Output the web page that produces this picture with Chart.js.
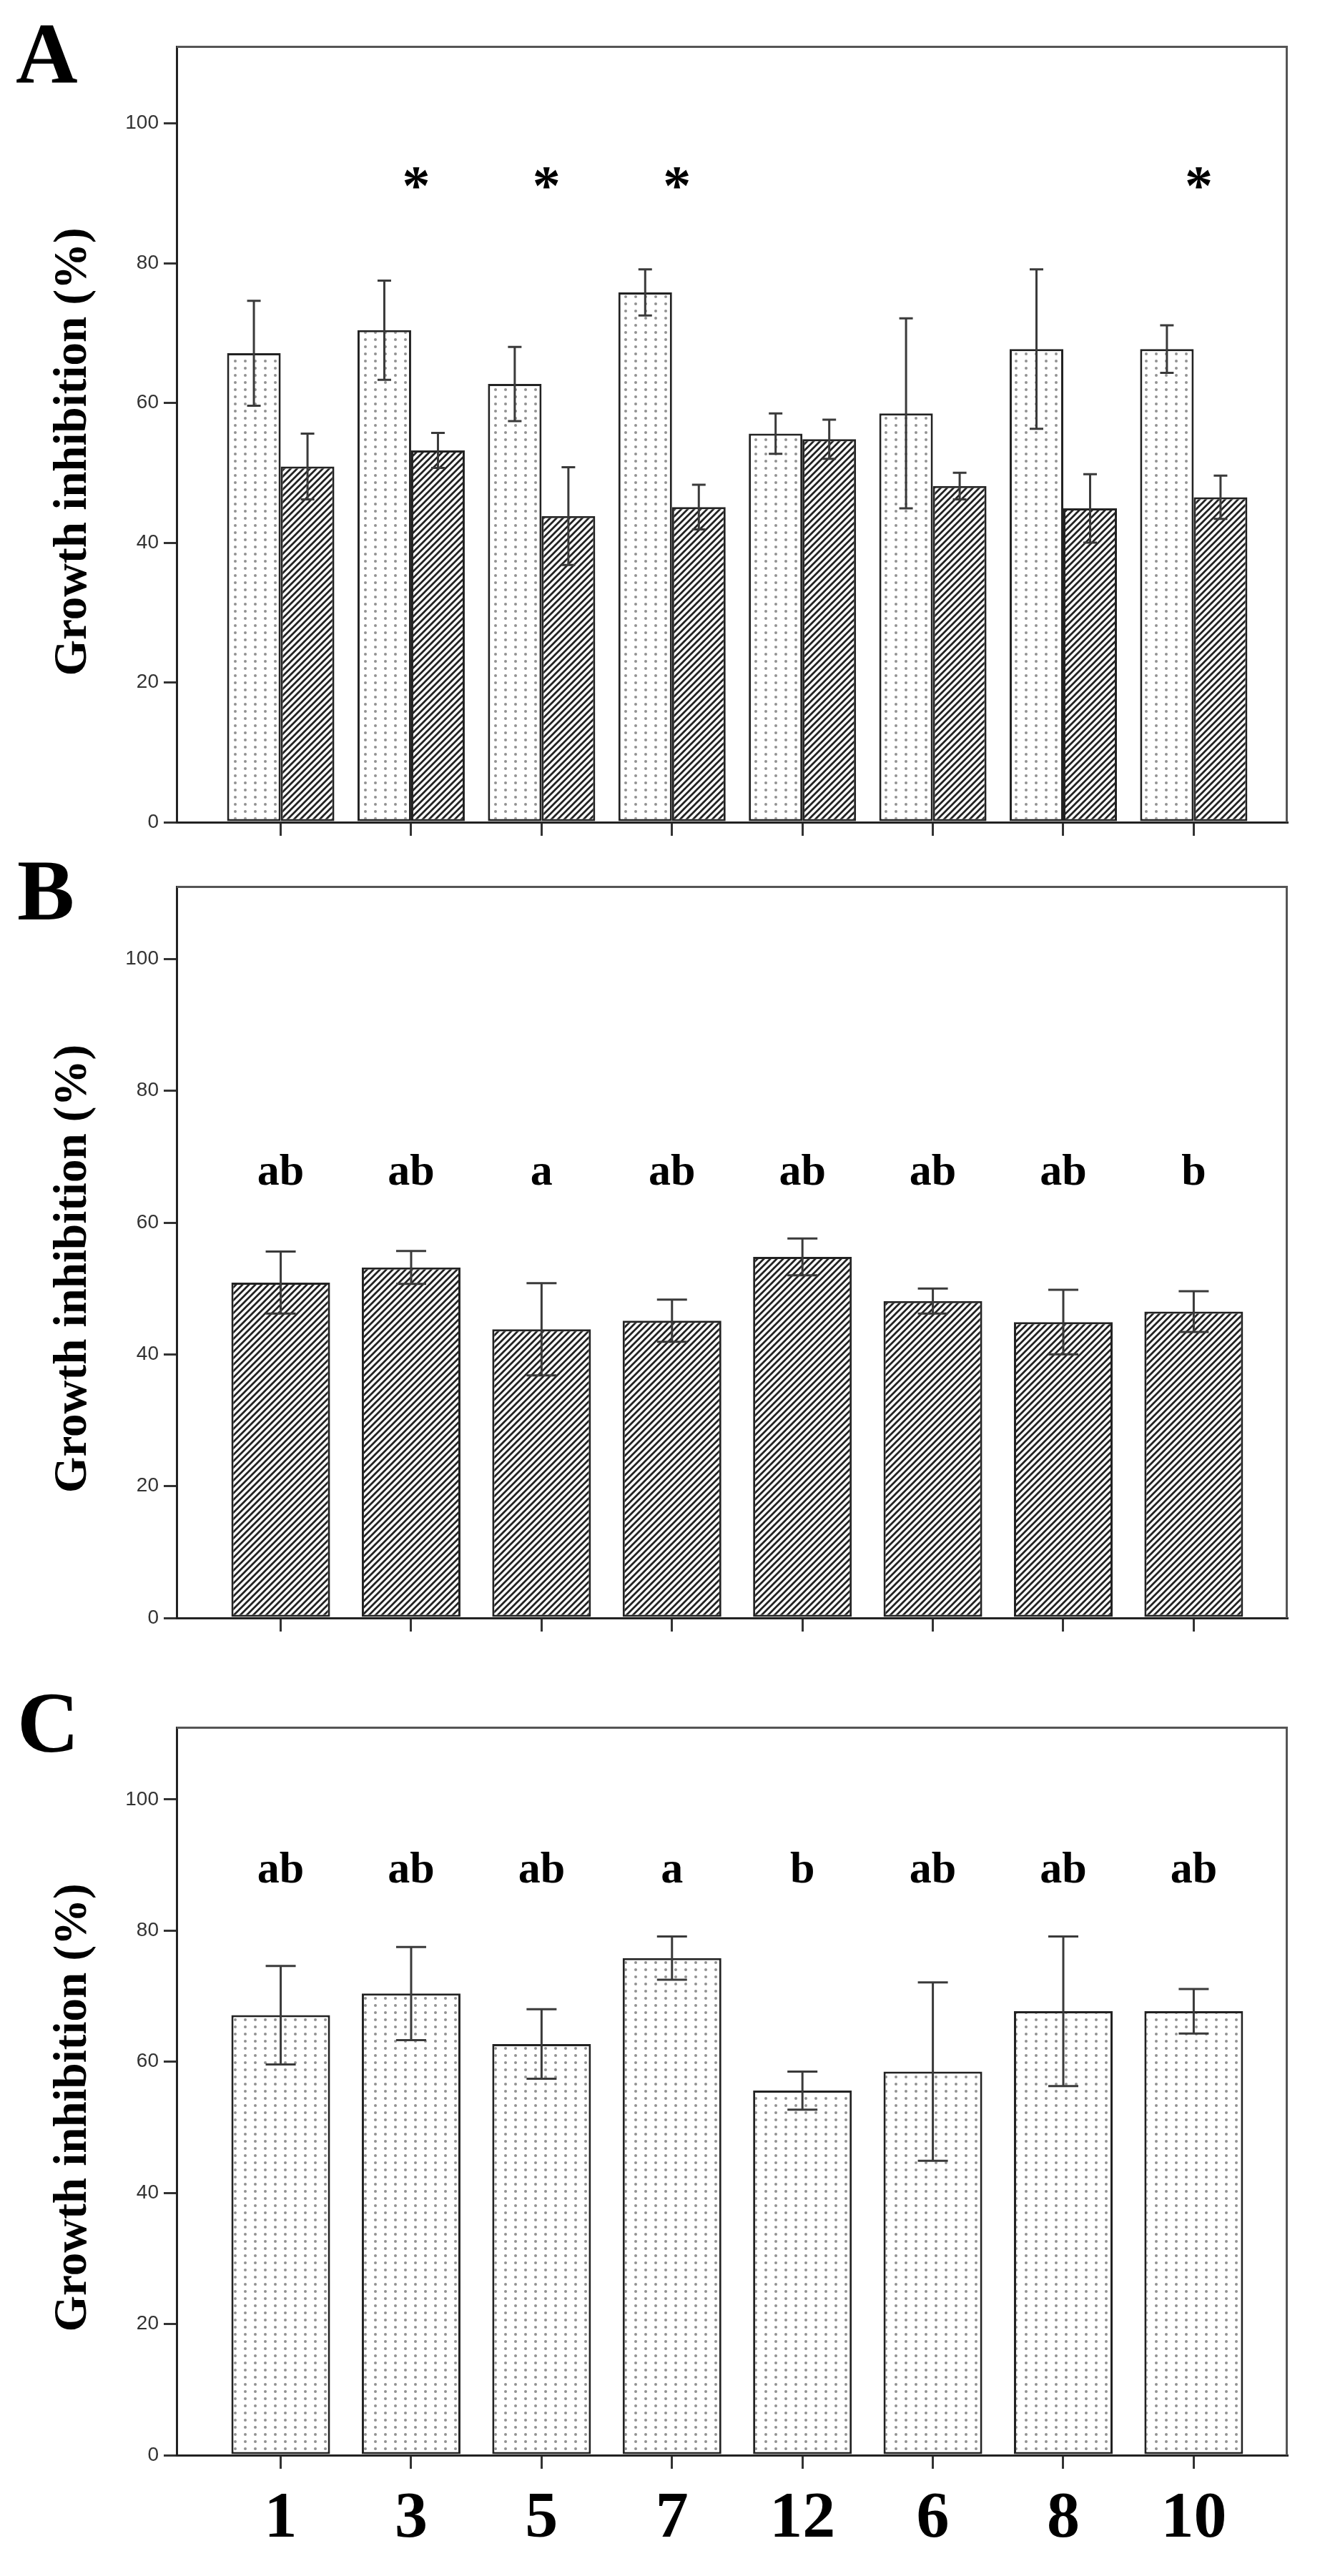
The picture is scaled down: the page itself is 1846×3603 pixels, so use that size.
<!DOCTYPE html>
<html><head><meta charset="utf-8">
<script src="https://cdn.jsdelivr.net/npm/chart.js@4.4.0/dist/chart.umd.min.js"></script>
<style>
html,body{margin:0;padding:0;background:#fff;}
body{width:1846px;height:3603px;position:relative;overflow:hidden;}
canvas{position:absolute;left:0;}
</style></head><body>
<canvas id="cA" width="1846" height="1200" style="top:0px"></canvas>
<canvas id="cB" width="1846" height="1130" style="top:1200px"></canvas>
<canvas id="cC" width="1846" height="1273" style="top:2330px"></canvas>
<script>
// ---------------- data ----------------
const categories = ['1','3','5','7','12','6','8','10'];
const dottedMeans   = [67.1, 70.4, 62.7, 75.8, 55.6, 58.5, 67.7, 67.7];
const dottedErrors  = [7.5, 7.1, 5.3, 3.3, 2.9, 13.6, 11.4, 3.4];
const hatchedMeans  = [50.9, 53.2, 43.8, 45.1, 54.8, 48.1, 44.9, 46.5];
const hatchedErrors = [4.7, 2.5, 7.0, 3.2, 2.8, 1.9, 4.9, 3.1];
const yTickValues = [0, 20, 40, 60, 80, 100];
const yAxisMax = 111;
const starsA   = ['', '*', '*', '*', '', '', '', '*'];
const lettersB = ['ab', 'ab', 'a', 'ab', 'ab', 'ab', 'ab', 'b'];
const lettersC = ['ab', 'ab', 'ab', 'a', 'b', 'ab', 'ab', 'ab'];
const yTitle = 'Growth inhibition (%)';
const panelNames = ['A', 'B', 'C'];

// ---------------- styling helpers ----------------
const SERIF = "'Liberation Serif', 'Times New Roman', serif";
const SANS = "'Liberation Sans', Arial, sans-serif";

function dotPattern(ctx) {
  const c = document.createElement('canvas');
  c.width = 14; c.height = 10;
  const g = c.getContext('2d');
  g.fillStyle = '#ffffff'; g.fillRect(0, 0, 14, 10);
  g.fillStyle = '#929292';
  g.beginPath(); g.arc(7, 5, 2.0, 0, Math.PI * 2); g.fill();
  return ctx.createPattern(c, 'repeat');
}
function hatchPattern(ctx) {
  const s = 9;
  const c = document.createElement('canvas');
  c.width = s; c.height = s;
  const g = c.getContext('2d');
  g.fillStyle = '#ffffff'; g.fillRect(0, 0, s, s);
  g.strokeStyle = '#222222'; g.lineWidth = 2.8;
  g.beginPath();
  g.moveTo(-1, s + 1); g.lineTo(s + 1, -1);
  g.moveTo(-2, 2); g.lineTo(2, -2);
  g.moveTo(s - 2, s + 2); g.lineTo(s + 2, s - 2);
  g.stroke();
  return ctx.createPattern(c, 'repeat');
}

const decorPlugin = {
  id: 'decor',
  afterDatasetsDraw(chart) {
    const o = chart.options.plugins.decor;
    const ctx = chart.ctx;
    const xs = chart.scales.x, ys = chart.scales.y;
    const ca = chart.chartArea;
    ctx.save();
    // frame (top and right)
    ctx.strokeStyle = '#555'; ctx.lineWidth = 3;
    ctx.beginPath();
    ctx.moveTo(ca.left, ca.top + 0.5); ctx.lineTo(ca.right - 0.5, ca.top + 0.5); ctx.lineTo(ca.right - 0.5, ca.bottom);
    ctx.stroke();
    // error bars
    chart.data.datasets.forEach((ds, di) => {
      const meta = chart.getDatasetMeta(di);
      meta.data.forEach((el, i) => {
        const m = ds.data[i].y, e = ds.errors[i];
        const yt = ys.getPixelForValue(m + e), yb = ys.getPixelForValue(m - e);
        const cw = o.capWidth / 2;
        ctx.strokeStyle = '#3a3a3a'; ctx.lineWidth = 3;
        ctx.beginPath();
        ctx.moveTo(el.x, yt); ctx.lineTo(el.x, yb);
        ctx.moveTo(el.x - cw, yt); ctx.lineTo(el.x + cw, yt);
        ctx.moveTo(el.x - cw, yb); ctx.lineTo(el.x + cw, yb);
        ctx.stroke();
      });
    });
    // significance marks
    ctx.fillStyle = '#000';
    ctx.textAlign = 'center';
    ctx.textBaseline = 'alphabetic';
    ctx.font = 'bold ' + o.markSize + 'px ' + SERIF;
    o.marks.forEach((t, i) => {
      if (!t) return;
      ctx.fillText(t, xs.getPixelForValue(i) + o.markDx, ys.getPixelForValue(o.markValue) + o.markBaselineShift);
    });
    // y-axis title
    ctx.save();
    ctx.translate(120, ys.getPixelForValue(53));
    ctx.rotate(-Math.PI / 2);
    ctx.font = 'bold 65px ' + SERIF;
    ctx.textAlign = 'center';
    ctx.textBaseline = 'alphabetic';
    ctx.fillText(yTitle, 0, 0);
    ctx.restore();
    // panel letter
    ctx.font = 'bold 120px ' + SERIF;
    ctx.textAlign = 'left';
    ctx.fillText(o.letter, o.letterX, o.letterY);
    ctx.restore();
  }
};

function buildChart(id, datasets, opts) {
  const cv = document.getElementById(id);
  return new Chart(cv.getContext('2d'), {
    type: 'bar',
    data: { datasets },
    plugins: [decorPlugin],
    options: {
      responsive: false,
      animation: false,
      devicePixelRatio: 1,
      layout: { padding: { left: 0, right: 46, top: opts.padTop, bottom: opts.padBottom } },
      categoryPercentage: opts.catPct,
      barPercentage: 1,
      plugins: {
        legend: { display: false },
        tooltip: { enabled: false },
        decor: opts.decor
      },
      scales: {
        x: {
          type: 'linear',
          min: -0.798, max: 7.716,
          offset: false,
          afterBuildTicks: s => { s.ticks = categories.map((_, i) => ({ value: i })); },
          afterFit: s => { s.height = opts.xHeight; },
          ticks: {
            autoSkip: false, maxRotation: 0, minRotation: 0,
            padding: 16,
            color: '#000',
            font: { family: SERIF, weight: 'bold', size: 92 },
            callback: (v) => opts.showLabels ? categories[Math.round(v)] : ''
          },
          grid: { display: true, offset: false, drawOnChartArea: false, drawTicks: true, tickLength: 19, color: '#333', lineWidth: 3 },
          border: { display: true, color: '#222', width: 3 }
        },
        y: {
          type: 'linear',
          min: 0, max: yAxisMax,
          afterBuildTicks: s => { s.ticks = yTickValues.map(v => ({ value: v })); },
          afterFit: s => { s.width = 247; },
          ticks: { color: '#333', padding: 7, font: { family: SANS, size: 28 } },
          grid: { display: true, drawOnChartArea: false, drawTicks: true, tickLength: 18, color: '#333', lineWidth: 3 },
          border: { display: true, color: '#222', width: 3 }
        }
      }
    }
  });
}

function series(means, errs, bg, label) {
  return {
    label,
    data: means.map((v, i) => ({ x: i, y: v })),
    errors: errs,
    backgroundColor: bg,
    borderColor: '#222',
    borderWidth: 3,
    borderSkipped: false
  };
}

const ctxA = document.getElementById('cA').getContext('2d');
const ctxB = document.getElementById('cB').getContext('2d');
const ctxC = document.getElementById('cC').getContext('2d');

buildChart('cA', [
  series(dottedMeans, dottedErrors, dotPattern(ctxA), 'dotted'),
  series(hatchedMeans, hatchedErrors, hatchPattern(ctxA), 'hatched')
], {
  padTop: 65, padBottom: 20, xHeight: 30, catPct: 150 / 182.4, showLabels: false,
  decor: { letter: panelNames[0], letterX: 22, letterY: 115, capWidth: 19,
           marks: starsA, markSize: 78, markValue: 92.3, markBaselineShift: 37, markDx: 7 }
});

buildChart('cB', [
  series(hatchedMeans, hatchedErrors, hatchPattern(ctxB), 'hatched')
], {
  padTop: 40, padBottom: 37, xHeight: 30, catPct: 138 / 182.4, showLabels: false,
  decor: { letter: panelNames[1], letterX: 24, letterY: 86, capWidth: 42,
           marks: lettersB, markSize: 62, markValue: 65.8, markBaselineShift: 0, markDx: 0 }
});

buildChart('cC', [
  series(dottedMeans, dottedErrors, dotPattern(ctxC), 'dotted')
], {
  padTop: 86, padBottom: 0, xHeight: 169, catPct: 138 / 182.4, showLabels: true,
  decor: { letter: panelNames[2], letterX: 24, letterY: 120, capWidth: 42,
           marks: lettersC, markSize: 62, markValue: 87.3, markBaselineShift: 0, markDx: 0 }
});
</script>
</body></html>
